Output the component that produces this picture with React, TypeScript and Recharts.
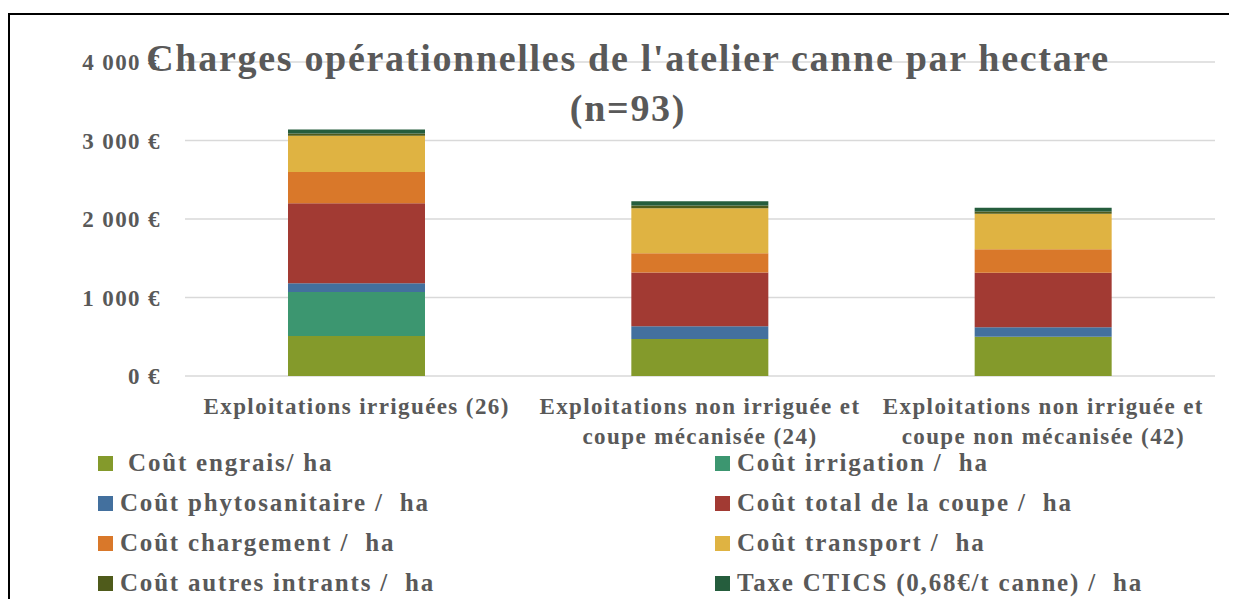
import { BarChart, Bar, XAxis, YAxis, CartesianGrid } from "recharts";

const CATEGORIES = [
  "Exploitations irriguées (26)",
  "Exploitations non irriguée et coupe mécanisée (24)",
  "Exploitations non irriguée et coupe non mécanisée (42)",
];

// lignes des étiquettes de l'axe X (retour à la ligne comme dans Excel)
const CATEGORY_LINES = [
  ["Exploitations irriguées (26)"],
  ["Exploitations non irriguée et", "coupe mécanisée (24)"],
  ["Exploitations non irriguée et", "coupe non mécanisée (42)"],
];

const ENGRAIS = [510, 470, 500];
const IRRIGATION = [560, 0, 0];
const PHYTO = [110, 165, 120];
const COUPE = [1020, 685, 695];
const CHARGEMENT = [400, 243, 300];
const TRANSPORT = [460, 575, 452];
const AUTRES = [30, 34, 30];
const CTICS = [50, 55, 47];

const Y_TICKS = [0, 1000, 2000, 3000, 4000];

const SERIES = [
  { key: "engrais", label: " Coût engrais/ ha", color: "#849A2B", values: ENGRAIS },
  { key: "irrigation", label: "Coût irrigation /  ha", color: "#3C9670", values: IRRIGATION },
  { key: "phyto", label: "Coût phytosanitaire /  ha", color: "#43709E", values: PHYTO },
  { key: "coupe", label: "Coût total de la coupe /  ha", color: "#A23A33", values: COUPE },
  { key: "chargement", label: "Coût chargement /  ha", color: "#D9782A", values: CHARGEMENT },
  { key: "transport", label: "Coût transport /  ha", color: "#DFB342", values: TRANSPORT },
  { key: "autres", label: "Coût autres intrants /  ha", color: "#4F5B1B", values: AUTRES },
  { key: "ctics", label: "Taxe CTICS (0,68€/t canne) /  ha", color: "#255D3D", values: CTICS },
];

const data = CATEGORIES.map((name, i) => {
  const row: Record<string, string | number> = { name };
  SERIES.forEach((s) => {
    row[s.key] = s.values[i];
  });
  return row;
});

const FONT = "'Liberation Serif', 'Times New Roman', serif";
const GREY = "#595959";

const euro = (v: number) =>
  `${String(v).replace(/\B(?=(\d{3})+(?!\d))/g, " ")} €`;

function CategoryTick(props: any) {
  const { x, y, payload } = props;
  const idx = CATEGORIES.indexOf(payload.value);
  const lines = CATEGORY_LINES[idx] ?? [payload.value];
  return (
    <g>
      {lines.map((line, i) => (
        <text
          key={i}
          x={x}
          y={y + 30 + i * 30}
          textAnchor="middle"
          dominantBaseline="central"
          fill={GREY}
          fontFamily={FONT}
          fontWeight="bold"
          fontSize={23}
          letterSpacing={1.4}
        >
          {line}
        </text>
      ))}
    </g>
  );
}

export default function App() {
  return (
    <div style={{ paddingTop: 5 }}>
      <div
        style={{
          position: "relative",
          width: 1227,
          height: 584,
          borderLeft: "2px solid #000",
          borderTop: "2px solid #000",
          background: "#fff",
          fontFamily: FONT,
        }}
      >
        <BarChart
          width={1227}
          height={584}
          data={data}
          margin={{ top: 47, right: 22, left: 0, bottom: 163 }}
        >
          <CartesianGrid vertical={false} stroke="#d9d9d9" strokeWidth={1.5} />
          <XAxis
            dataKey="name"
            axisLine={false}
            tickLine={false}
            tickSize={0}
            tickMargin={0}
            height={60}
            interval={0}
            tick={<CategoryTick />}
          />
          <YAxis
            width={175}
            domain={[0, 4000]}
            ticks={Y_TICKS}
            axisLine={false}
            tickLine={false}
            tickSize={0}
            tickMargin={24}
            tickFormatter={euro}
            tick={{
              fill: GREY,
              fontFamily: FONT,
              fontWeight: "bold",
              fontSize: 23,
              letterSpacing: 1.4,
            }}
          />
          {SERIES.map((s) => (
            <Bar
              key={s.key}
              dataKey={s.key}
              stackId="charges"
              fill={s.color}
              barSize={137}
              isAnimationActive={false}
            />
          ))}
        </BarChart>

        <div
          style={{
            position: "absolute",
            left: 0,
            top: 18,
            width: 1236,
            textAlign: "center",
            color: GREY,
            fontWeight: "bold",
            fontSize: 38,
            letterSpacing: 1.7,
            lineHeight: "50px",
            pointerEvents: "none",
          }}
        >
          Charges opérationnelles de l'atelier canne par hectare
          <br />
          (n=93)
        </div>

        {SERIES.map((s, i) => (
          <div
            key={s.key}
            style={{
              position: "absolute",
              left: i % 2 === 0 ? 88 : 705,
              top: 448 + Math.floor(i / 2) * 40 - 20,
              height: 40,
              display: "flex",
              alignItems: "center",
              color: GREY,
              fontWeight: "bold",
              fontSize: 25,
              letterSpacing: 1.8,
              whiteSpace: "pre",
            }}
          >
            <span
              style={{
                display: "inline-block",
                width: 15,
                height: 15,
                background: s.color,
                marginRight: 7,
              }}
            />
            {s.label}
          </div>
        ))}
      </div>
    </div>
  );
}
